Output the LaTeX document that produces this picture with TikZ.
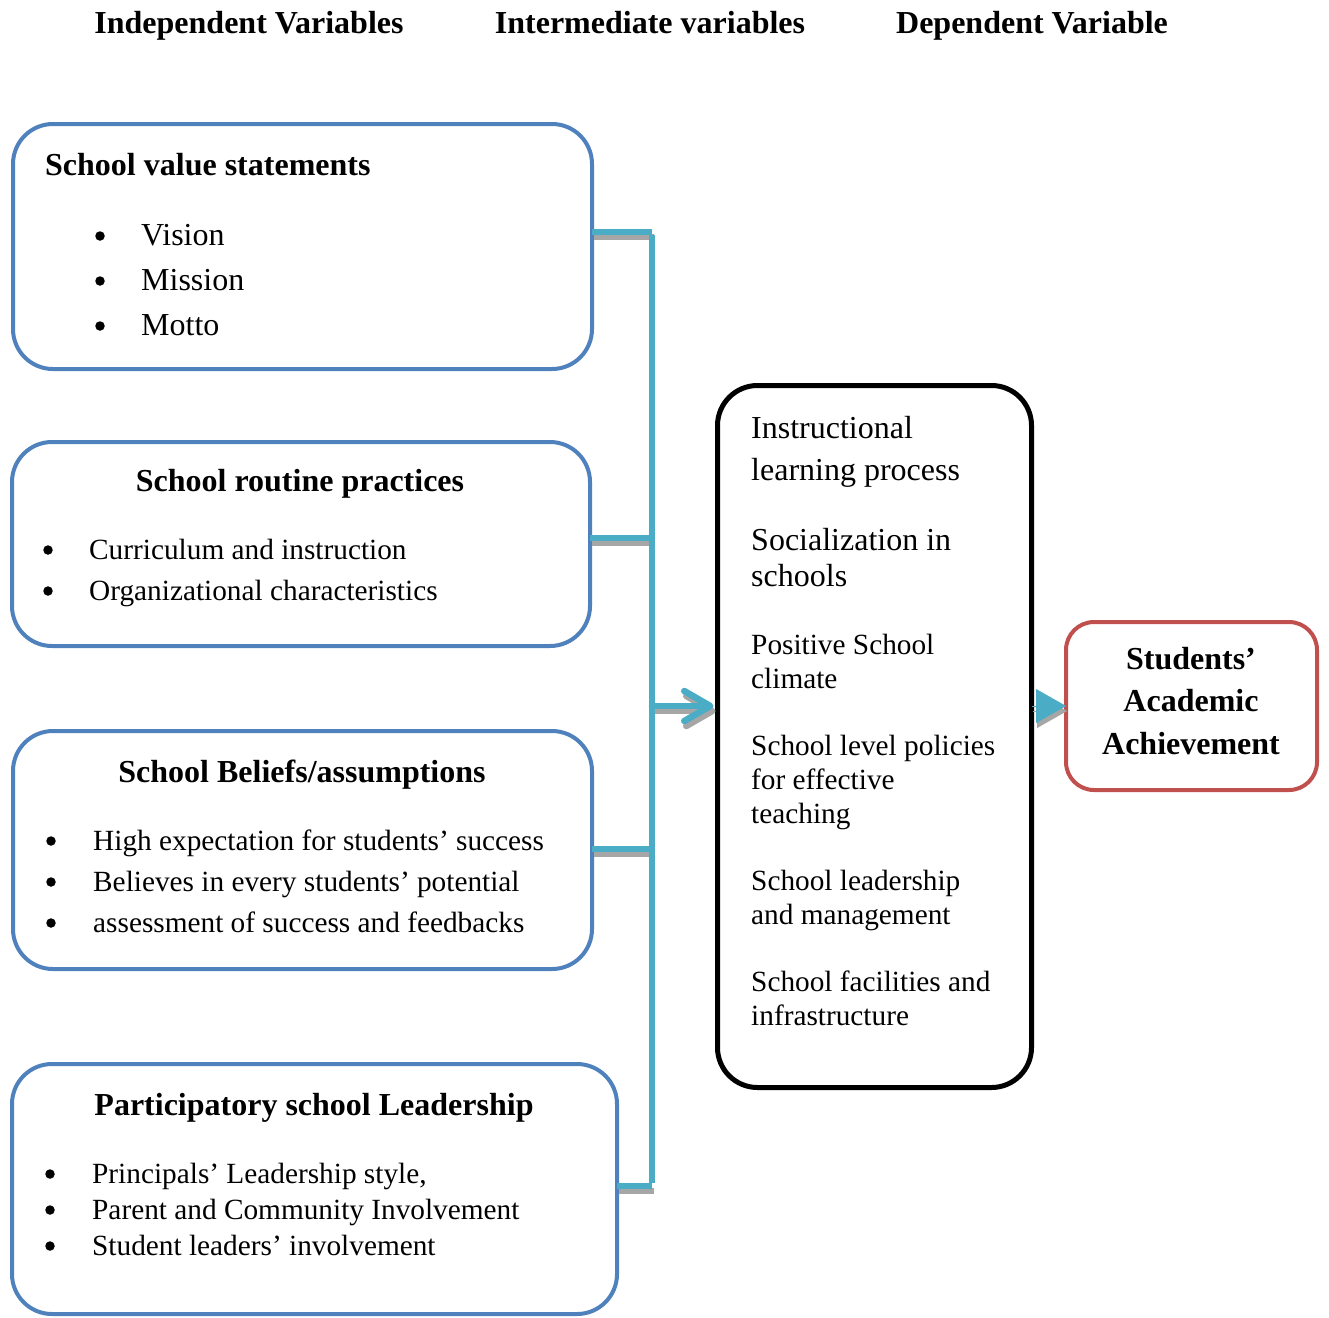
\documentclass[tikz,border=0pt]{standalone}
\usepackage{fontspec}
\setmainfont{Liberation Serif}
\usetikzlibrary{arrows.meta}
\definecolor{boxblue}{HTML}{4F81BD}
\definecolor{boxred}{HTML}{C0504D}
\definecolor{conncyan}{HTML}{4BACC6}
\definecolor{shadowgray}{HTML}{A6A6A6}
\tikzset{
  bluebox/.style={draw=boxblue, line width=4pt, rounded corners=40pt, anchor=north west, inner sep=0pt, outer sep=0pt},
  blackbox/.style={draw=black, line width=5pt, rounded corners=40pt, anchor=north west, inner sep=0pt, outer sep=0pt},
  redbox/.style={draw=boxred, line width=4pt, rounded corners=28pt, anchor=north west, inner sep=0pt, outer sep=0pt},
  hdr/.style={font=\fontsize{32}{38}\selectfont\bfseries, anchor=base, inner sep=0pt},
  ttl/.style={font=\fontsize{32}{38}\selectfont\bfseries, inner sep=0pt},
  big/.style={font=\fontsize{32}{38}\selectfont, anchor=base west, inner sep=0pt},
  txt/.style={font=\fontsize{29.3}{35}\selectfont, anchor=base west, inner sep=0pt},
  bul/.style={circle, fill=black, inner sep=0pt, minimum size=9.5pt},
  conn/.style={draw=conncyan, line width=5.5pt},
  shad/.style={draw=shadowgray, line width=5.5pt, transform canvas={xshift=2pt, yshift=-5pt}},
  chev/.style={line width=6.5pt, line cap=round, line join=round, shorten >=4pt, -{Straight Barb[length=26pt,width=30pt,round]}},
  tri/.style={line width=0.1pt, -{Triangle[length=30pt,width=34pt]}},
}
\begin{document}
\begin{tikzpicture}[x=1pt,y=-1pt]
\useasboundingbox (0,0) rectangle (1329,1317);
% headers
\node[hdr] (h1) at (249,33) {Independent Variables};
\node[hdr] (h2) at (650,33) {Intermediate variables};
\node[hdr] (h3) at (1032,33) {Dependent Variable};
% boxes
\node[bluebox, minimum width=579pt, minimum height=245pt] (b1) at (13,124) {};
\node[bluebox, minimum width=578pt, minimum height=204pt] (b2) at (12,442) {};
\node[bluebox, minimum width=579pt, minimum height=238pt] (b3) at (13,731) {};
\node[bluebox, minimum width=605pt, minimum height=250pt] (b4) at (12,1064) {};
\node[blackbox, minimum width=314pt, minimum height=702pt] (mid) at (717.5,385.5) {};
\node[redbox, minimum width=251pt, minimum height=168pt] (res) at (1066,622) {};
% box 1
\node[ttl, anchor=base west] (t1) at (45,175) {School value statements};
\node[bul] (p11) at (100,236) {}; \node[big] (i11) at (141,245) {Vision};
\node[bul] (p12) at (100,281) {}; \node[big] (i12) at (141,290) {Mission};
\node[bul] (p13) at (100,326) {}; \node[big] (i13) at (141,335) {Motto};
% box 2
\node[ttl, anchor=base] (t2) at (300,491) {School routine practices};
\node[bul] (p21) at (48,550) {}; \node[txt] (i21) at (89,559) {Curriculum and instruction};
\node[bul] (p22) at (48,591) {}; \node[txt] (i22) at (89,600) {Organizational characteristics};
% box 3
\node[ttl, anchor=base] (t3) at (302,782) {School Beliefs/assumptions};
\node[bul] (p31) at (51,841) {}; \node[txt] (i31) at (93,850) {High expectation for students’ success};
\node[bul] (p32) at (51,882) {}; \node[txt] (i32) at (93,891) {Believes in every students’ potential};
\node[bul] (p33) at (51,923) {}; \node[txt] (i33) at (93,932) {assessment of success and feedbacks};
% box 4
\node[ttl, anchor=base] (t4) at (314,1115) {Participatory school Leadership};
\node[bul] (p41) at (50,1174) {}; \node[txt] (i41) at (92,1183) {Principals’ Leadership style,};
\node[bul] (p42) at (50,1210) {}; \node[txt] (i42) at (92,1219) {Parent and Community Involvement};
\node[bul] (p43) at (50,1246) {}; \node[txt] (i43) at (92,1255) {Student leaders’ involvement};
% middle box text
\node[big] (m1) at (751,438) {Instructional};
\node[big] (m2) at (751,480) {learning process};
\node[big] (m3) at (751,550) {Socialization in};
\node[big] (m4) at (751,586) {schools};
\node[txt] (m5) at (751,654) {Positive School};
\node[txt] (m6) at (751,688) {climate};
\node[txt] (m7) at (751,755) {School level policies};
\node[txt] (m8) at (751,789) {for effective};
\node[txt] (m9) at (751,823) {teaching};
\node[txt] (m10) at (751,890) {School leadership};
\node[txt] (m11) at (751,924) {and management};
\node[txt] (m12) at (751,991) {School facilities and};
\node[txt] (m13) at (751,1025) {infrastructure};
% result text
\node[ttl, anchor=base] (r1) at (1191,669) {Students’};
\node[ttl, anchor=base] (r2) at (1191,711) {Academic};
\node[ttl, anchor=base] (r3) at (1191,754) {Achievement};
% junction coordinates
\coordinate (j1) at (652,232);
\coordinate (j2) at (652,538);
\coordinate (j3) at (652,849);
\coordinate (j4) at (652,1186);
\coordinate (jm) at (652,706);
% shadows
\draw[shad] (b1.east |- j1) -- (j1);
\draw[shad] (b2.east |- j2) -- (j2);
\draw[shad] (b3.east |- j3) -- (j3);
\draw[shad] (b4.east |- j4) -- (j4);
\draw[shad, chev] (jm) -- (mid.west |- jm);
\draw[shadowgray, fill=shadowgray, tri, transform canvas={xshift=1pt, yshift=-5pt}] (mid.east |- jm) -- (res.west |- jm);
% connectors
\draw[conn] (b1.east |- j1) -- (j1);
\draw[conn] (b2.east |- j2) -- (j2);
\draw[conn] (b3.east |- j3) -- (j3);
\draw[conn] (b4.east |- j4) -- (j4);
\draw[conn] ([yshift=-2.75pt]j1) -- ([yshift=2.75pt]j4);
\draw[conn, chev] (jm) -- (mid.west |- jm);
\draw[conncyan, fill=conncyan, tri] (mid.east |- jm) -- (res.west |- jm);
\end{tikzpicture}
\end{document}
